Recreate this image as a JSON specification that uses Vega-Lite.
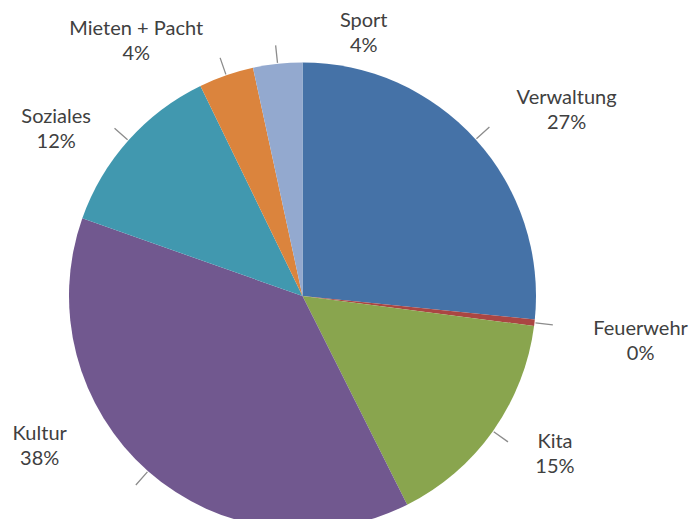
{
  "$schema": "https://vega.github.io/schema/vega-lite/v6.json",
  "width": 595,
  "height": 582,
  "autosize": {"type": "none"},
  "padding": {"left": 5, "top": 5, "right": 92, "bottom": 5},
  "background": "white",
  "config": {"view": {"stroke": null}},
  "data": {
    "values": [
      {"idx": 1, "category": "Verwaltung", "value": 26.6, "label": "Verwaltung\n27%"},
      {"idx": 2, "category": "Feuerwehr", "value": 0.45, "label": "Feuerwehr\n0%"},
      {"idx": 3, "category": "Kita", "value": 15.55, "label": "Kita\n15%"},
      {"idx": 4, "category": "Kultur", "value": 37.8, "label": "Kultur\n38%"},
      {"idx": 5, "category": "Soziales", "value": 12.4, "label": "Soziales\n12%"},
      {"idx": 6, "category": "Mieten + Pacht", "value": 3.8, "label": "Mieten + Pacht\n4%"},
      {"idx": 7, "category": "Sport", "value": 3.4, "label": "Sport\n4%"}
    ]
  },
  "encoding": {
    "theta": {"field": "value", "type": "quantitative", "stack": true},
    "order": {"field": "idx", "type": "quantitative"}
  },
  "layer": [
    {
      "mark": {"type": "arc", "outerRadius": 233.5},
      "encoding": {
        "color": {
          "field": "category",
          "type": "nominal",
          "scale": {
            "domain": ["Verwaltung", "Feuerwehr", "Kita", "Kultur", "Soziales", "Mieten + Pacht", "Sport"],
            "range": ["#4572A7", "#AA4643", "#89A54E", "#71588F", "#4198AF", "#DB843D", "#93A9CF"]
          },
          "legend": null
        }
      }
    },
    {
      "mark": {"type": "arc", "innerRadius": 234.5, "outerRadius": 252, "padAngle": 3.14159, "filled": false, "stroke": "#8c8c8c", "strokeWidth": 1.3}
    },
    {
      "mark": {"type": "text", "radius": 290, "dx": 49, "dy": -3.5, "font": "Lato", "fontSize": 20, "fill": "#404040", "lineBreak": "\n", "lineHeight": 25, "align": "center", "baseline": "middle"},
      "encoding": {"text": {"condition": {"test": "datum.category === 'Verwaltung'", "field": "label"}, "value": ""}}
    },
    {
      "mark": {"type": "text", "radius": 290, "dx": 50, "dy": -0.5, "font": "Lato", "fontSize": 20, "fill": "#404040", "lineBreak": "\n", "lineHeight": 25, "align": "center", "baseline": "middle"},
      "encoding": {"text": {"condition": {"test": "datum.category === 'Feuerwehr'", "field": "label"}, "value": ""}}
    },
    {
      "mark": {"type": "text", "radius": 290, "dx": 16, "dy": -21.5, "font": "Lato", "fontSize": 20, "fill": "#404040", "lineBreak": "\n", "lineHeight": 25, "align": "center", "baseline": "middle"},
      "encoding": {"text": {"condition": {"test": "datum.category === 'Kita'", "field": "label"}, "value": ""}}
    },
    {
      "mark": {"type": "text", "radius": 290, "dx": -71, "dy": -79.5, "font": "Lato", "fontSize": 20, "fill": "#404040", "lineBreak": "\n", "lineHeight": 25, "align": "center", "baseline": "middle"},
      "encoding": {"text": {"condition": {"test": "datum.category === 'Kultur'", "field": "label"}, "value": ""}}
    },
    {
      "mark": {"type": "text", "radius": 290, "dx": -30, "dy": 14.5, "font": "Lato", "fontSize": 20, "fill": "#404040", "lineBreak": "\n", "lineHeight": 25, "align": "center", "baseline": "middle"},
      "encoding": {"text": {"condition": {"test": "datum.category === 'Soziales'", "field": "label"}, "value": ""}}
    },
    {
      "mark": {"type": "text", "radius": 270, "dx": -78, "dy": -11.5, "font": "Lato", "fontSize": 20, "fill": "#404040", "lineBreak": "\n", "lineHeight": 25, "align": "center", "baseline": "middle"},
      "encoding": {"text": {"condition": {"test": "datum.category === 'Mieten + Pacht'", "field": "label"}, "value": ""}}
    },
    {
      "mark": {"type": "text", "radius": 270, "dx": 90, "dy": -6.5, "font": "Lato", "fontSize": 20, "fill": "#404040", "lineBreak": "\n", "lineHeight": 25, "align": "center", "baseline": "middle"},
      "encoding": {"text": {"condition": {"test": "datum.category === 'Sport'", "field": "label"}, "value": ""}}
    }
  ]
}
